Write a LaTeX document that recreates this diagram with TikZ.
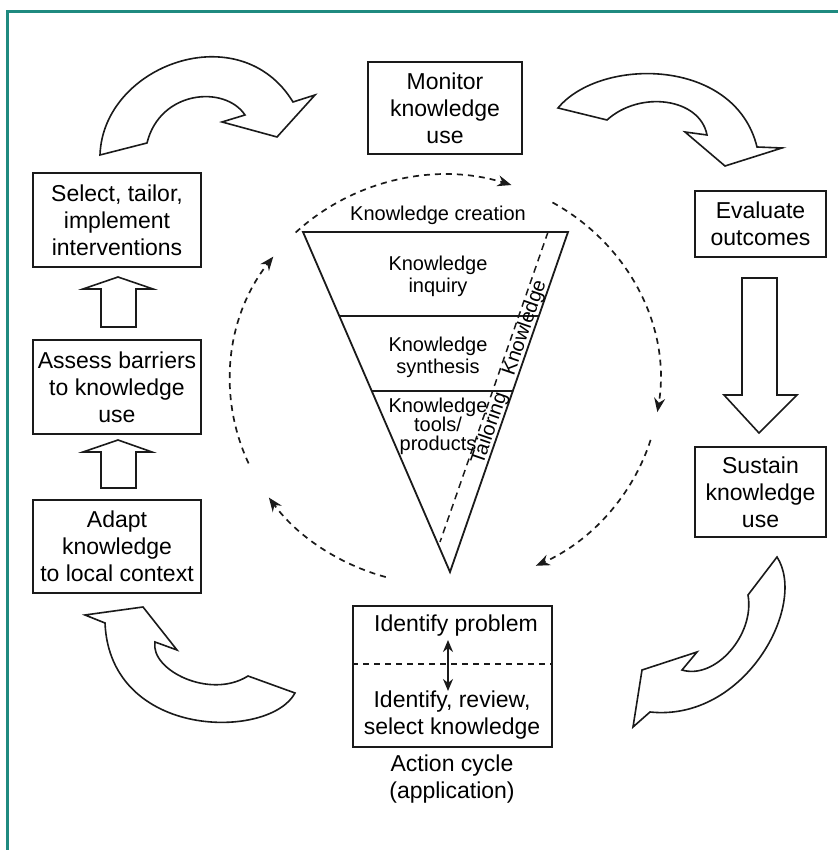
\documentclass[tikz,border=0pt]{standalone}
\usepackage{fontspec}
\setmainfont{Liberation Sans}
\usetikzlibrary{arrows.meta,calc}
\definecolor{KTATeal}{HTML}{1F8A80}
\definecolor{KTAInk}{HTML}{1A1A1A}

\begin{document}
\begin{tikzpicture}[x=0.5pt,y=0.5pt,
  stagebox/.style={draw=KTAInk,line width=1pt,align=center,inner sep=0pt,font=\fontsize{11.5}{13.5}\selectfont},
  cycletext/.style={align=center,inner sep=0pt,font=\fontsize{11.5}{13.5}\selectfont},
  funneltext/.style={align=center,inner sep=0pt,font=\fontsize{10}{11}\selectfont},
  blockarrow/.style={draw=KTAInk,line width=.8pt,fill=white,line join=miter},
  cyclearrow/.style={draw=KTAInk,line width=.85pt,dash pattern=on 3pt off 2.5pt,-{Stealth[length=7pt,width=5.5pt]}},
  splitline/.style={draw=KTAInk,line width=.6pt,dash pattern=on 3pt off 2.5pt}]
\path[use as bounding box] (0,0) rectangle (838,850);
\fill[white] (0,0) rectangle (838,850);
\draw[KTATeal,line width=1.5pt] (7,-20) |- (860,838);

\node[stagebox,minimum width=77pt,minimum height=46pt] (monitor) at (445,742) {Monitor\\knowledge\\use};
\node[stagebox,minimum width=84pt,minimum height=47pt] (select) at (117,630) {Select, tailor,\\implement\\interventions};
\node[stagebox,minimum width=84pt,minimum height=47pt] (assess) at (117,463) {Assess barriers\\to knowledge\\use};
\node[stagebox,minimum width=84pt,minimum height=46.5pt] (adapt) at (117,303.5) {Adapt\\knowledge\\to local context};
\node[stagebox,minimum width=65.5pt,minimum height=33pt] (evaluate) at (760.5,626) {Evaluate\\outcomes};
\node[stagebox,minimum width=65.5pt,minimum height=45pt] (sustain) at (760.5,358) {Sustain\\knowledge\\use};
\node[stagebox,minimum width=99.5pt,minimum height=70.5pt] (action) at (452.5,173.5) {};
\draw[splitline] (action.west |- 0,186) -- (action.east |- 0,186);
\node[cycletext] (problem) at (456,224) {Identify problem};
\node[cycletext] (review) at (452,134.5) {Identify, review,\\select knowledge};
\coordinate (splitup) at (448,210);
\coordinate (splitdn) at (448,159);
\draw[KTAInk,line width=.9pt,{Stealth[length=6pt,width=5pt]}-{Stealth[length=6pt,width=5pt]}] (splitup) -- (splitdn);
\node[cycletext] (actionlbl) at (452,71) {Action cycle\\(application)};

\coordinate (ftl) at (303,618);
\coordinate (ftr) at (568,618);
\coordinate (fap) at (450,278);
\draw[KTAInk,line width=.9pt,line join=miter] (ftl) -- (ftr) -- (fap) -- cycle;
\draw[KTAInk,line width=.9pt] ($(ftl)!0.247!(fap)$) -- ($(ftr)!0.247!(fap)$);
\draw[KTAInk,line width=.9pt] ($(ftl)!0.468!(fap)$) -- ($(ftr)!0.468!(fap)$);
\draw[KTAInk,line width=.75pt,dash pattern=on 3.5pt off 2.5pt] (548,618) -- (440,308);
\node[funneltext] (creation) at (438,635) {Knowledge creation};
\node[funneltext] (inquiry) at (438,574) {Knowledge\\inquiry};
\node[funneltext] (synthesis) at (438,493) {Knowledge\\synthesis};
\node[funneltext,font=\fontsize{10}{9.5}\selectfont] (tools) at (438,424) {Knowledge\\tools/\\products};
\node[funneltext,rotate=71] (kntext) at (525,522) {Knowledge};
\node[funneltext,rotate=71] (tailtext) at (490,421) {Tailoring};

\coordinate (hub) at (445,470);
\draw[cyclearrow] ($(hub)+(204:215 and 205)$) arc[start angle=204,end angle=143,x radius=215,y radius=205];
\draw[cyclearrow] ($(hub)+(134:215 and 205)$) arc[start angle=134,end angle=72,x radius=215,y radius=205];
\draw[cyclearrow] ($(hub)+(60:215 and 205)$) arc[start angle=60,end angle=-9,x radius=215,y radius=205];
\draw[cyclearrow] ($(hub)+(-17:215 and 205)$) arc[start angle=-17,end angle=-65,x radius=215,y radius=205];
\draw[cyclearrow] ($(hub)+(254:215 and 205)$) arc[start angle=254,end angle=215,x radius=215,y radius=205];

\draw[blockarrow] (101,523) -- (101,561) -- (83,561) -- (118,573) -- (153,561) -- (136,561) -- (136,523) -- cycle;
\draw[blockarrow] (101,362) -- (101,398) -- (83,398) -- (118,410) -- (152,398) -- (136,398) -- (136,362) -- cycle;
\draw[blockarrow] (742,572) -- (742,455) -- (724,455) -- (759,417) -- (797,455) -- (777,455) -- (777,572) -- cycle;

\draw[blockarrow] (100,695) .. controls (103,785) and (240,835) .. (293,748) -- (315,755) -- (277,713) -- (222,728) -- (245,735) .. controls (225,765) and (160,760) .. (147,707) -- cycle;
\draw[blockarrow] (558,742) .. controls (600,793) and (735,793) .. (757,703) -- (782,702) -- (725,684) -- (685,718) -- (707,715) .. controls (700,752) and (640,760) .. (607,730) -- cycle;
\draw[blockarrow] (633,123) -- (642,180) -- (697,198) -- (682,180) .. controls (715,170) and (755,215) .. (748,255) -- (777,293) .. controls (808,245) and (745,128) .. (650,138) -- cycle;
\draw[blockarrow] (85,235) -- (143,243) -- (177,200) -- (155,208) .. controls (150,180) and (210,150) .. (248,174) -- (295,157) .. controls (270,110) and (110,110) .. (105,227) -- cycle;
\end{tikzpicture}
\end{document}
